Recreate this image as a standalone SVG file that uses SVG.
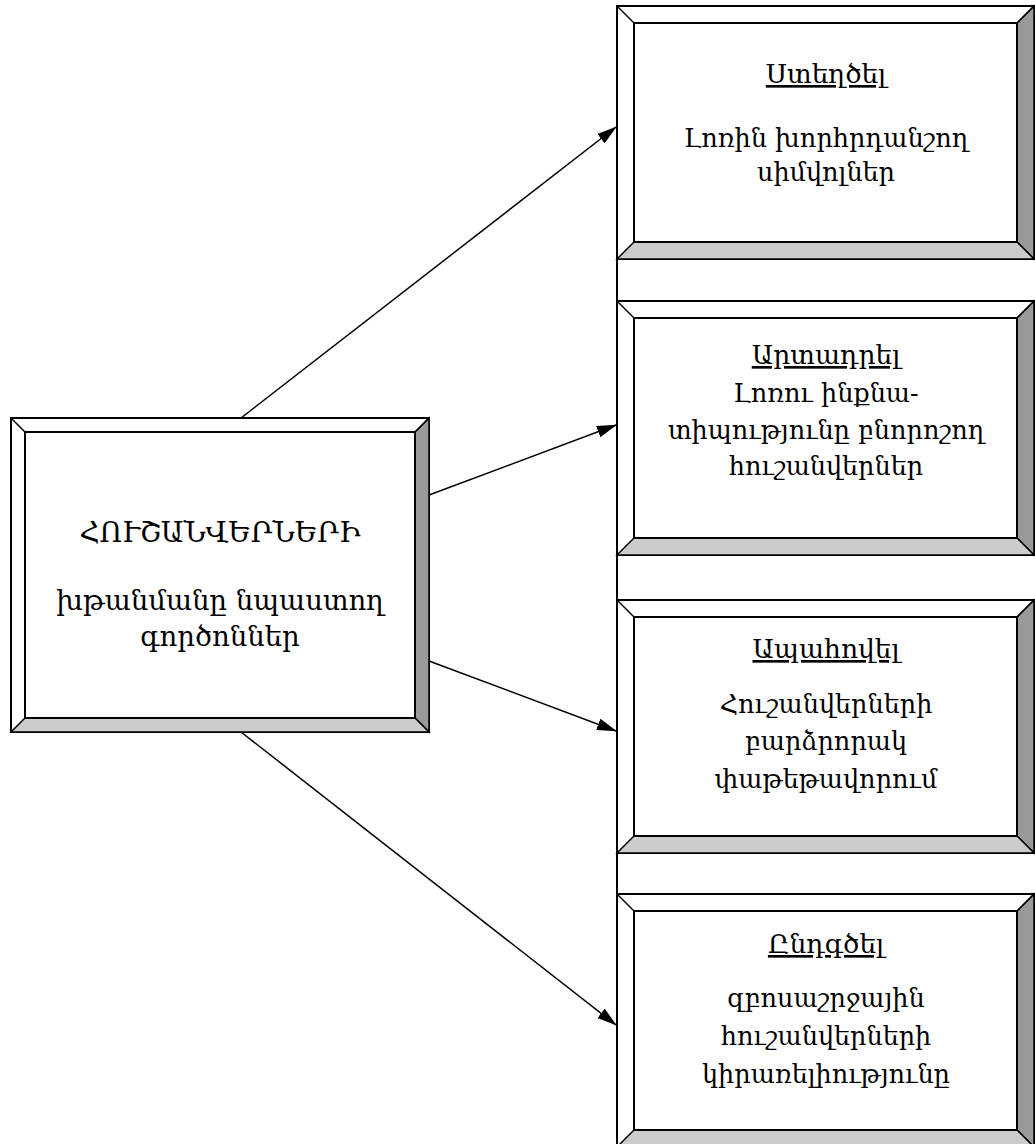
<svg xmlns="http://www.w3.org/2000/svg" width="1035" height="1144" viewBox="0 0 1035 1144">
<defs>
<marker id="ah" markerWidth="20" markerHeight="12" refX="19" refY="6" orient="auto" markerUnits="userSpaceOnUse">
<path d="M0,0 L20,6 L0,12 Z" fill="#000"/>
</marker>
<style>
.outer{fill:#fff;stroke:#000;stroke-width:2}
.inner{fill:#fff;stroke:#000;stroke-width:2}
.br{fill:#999;stroke:#000;stroke-width:1.5;stroke-linejoin:miter}
.bb{fill:#ccc;stroke:#000;stroke-width:1.5}
.dg{stroke:#000;stroke-width:1.5}
.conn{stroke:#000;stroke-width:1.5;fill:none;marker-end:url(#ah)}
text{font-family:"DejaVu Serif","DejaVu Sans",serif;font-size:25.5px;fill:#000;text-anchor:middle}
.t{text-decoration:underline;font-size:26.5px}
.mt{font-size:28px}
.mb{font-size:27.5px}
</style>
</defs>
<rect width="1035" height="1144" fill="#fff"/>
<g id="connectors">
<line x1="617" y1="259" x2="617" y2="894" stroke="#000" stroke-width="2"/>
<line class="conn" x1="241" y1="418" x2="616" y2="127"/>
<line class="conn" x1="429" y1="495" x2="616" y2="425"/>
<line class="conn" x1="429" y1="661" x2="616" y2="731"/>
<line class="conn" x1="241" y1="732" x2="616" y2="1025"/>
</g>
<g id="main">
<rect class="outer" x="11" y="418" width="418" height="314"/>
<polygon class="br" points="429,418 429,732 415,718 415,432"/>
<polygon class="bb" points="11,732 429,732 415,718 25,718"/>
<line class="dg" x1="11" y1="418" x2="25" y2="432"/>
<line class="dg" x1="429" y1="418" x2="415" y2="432"/>
<rect class="inner" x="25" y="432" width="390" height="286"/>
<text class="mt" x="220" y="542">ՀՈՒՇԱՆՎԵՐՆԵՐԻ</text>
<text class="mb" x="220" y="610">խթանմանը նպաստող</text>
<text class="mb" x="220" y="646">գործոններ</text>
</g>
<g id="box1">
<rect class="outer" x="617" y="6" width="417" height="253"/>
<polygon class="br" points="1034,6 1034,259 1017,242 1017,23"/>
<polygon class="bb" points="617,259 1034,259 1017,242 634,242"/>
<line class="dg" x1="617" y1="6" x2="634" y2="23"/>
<line class="dg" x1="1034" y1="6" x2="1017" y2="23"/>
<rect class="inner" x="634" y="23" width="383" height="219"/>
<text class="t" x="826" y="83">Ստեղծել</text>
<text x="826" y="147">Լոռին խորհրդանշող</text>
<text x="826" y="181">սիմվոլներ</text>
</g>
<g id="box2">
<rect class="outer" x="617" y="301" width="417" height="254"/>
<polygon class="br" points="1034,301 1034,555 1017,538 1017,318"/>
<polygon class="bb" points="617,555 1034,555 1017,538 634,538"/>
<line class="dg" x1="617" y1="301" x2="634" y2="318"/>
<line class="dg" x1="1034" y1="301" x2="1017" y2="318"/>
<rect class="inner" x="634" y="318" width="383" height="220"/>
<text class="t" x="826" y="364">Արտադրել</text>
<text x="826" y="402">Լոռու ինքնա-</text>
<text x="826" y="439">տիպությունը բնորոշող</text>
<text x="826" y="475">հուշանվերներ</text>
</g>
<g id="box3">
<rect class="outer" x="617" y="600" width="417" height="253"/>
<polygon class="br" points="1034,600 1034,853 1017,836 1017,617"/>
<polygon class="bb" points="617,853 1034,853 1017,836 634,836"/>
<line class="dg" x1="617" y1="600" x2="634" y2="617"/>
<line class="dg" x1="1034" y1="600" x2="1017" y2="617"/>
<rect class="inner" x="634" y="617" width="383" height="219"/>
<text class="t" x="826" y="658">Ապահովել</text>
<text x="826" y="713">Հուշանվերների</text>
<text x="826" y="750">բարձրորակ</text>
<text x="826" y="788">փաթեթավորում</text>
</g>
<g id="box4">
<rect class="outer" x="617" y="894" width="417" height="253"/>
<polygon class="br" points="1034,894 1034,1147 1017,1130 1017,911"/>
<polygon class="bb" points="617,1147 1034,1147 1017,1130 634,1130"/>
<line class="dg" x1="617" y1="894" x2="634" y2="911"/>
<line class="dg" x1="1034" y1="894" x2="1017" y2="911"/>
<rect class="inner" x="634" y="911" width="383" height="219"/>
<text class="t" x="826" y="953">Ընդգծել</text>
<text x="826" y="1007">զբոսաշրջային</text>
<text x="826" y="1045">հուշանվերների</text>
<text x="826" y="1083">կիրառելիությունը</text>
</g>
</svg>
